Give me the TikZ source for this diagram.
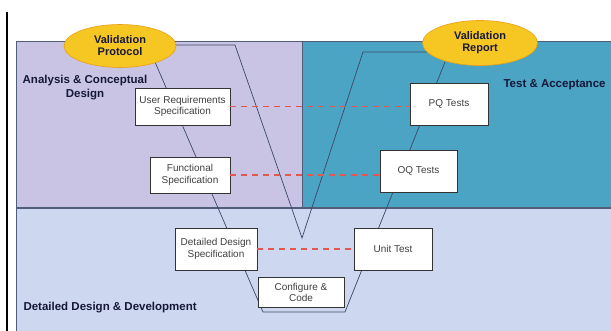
\documentclass[tikz,border=0pt]{standalone}
\usepackage{fontspec}
\setmainfont{Liberation Sans}
\usetikzlibrary{shapes.geometric}
\definecolor{phaseA}{RGB}{201,196,228}
\definecolor{phaseT}{RGB}{76,164,196}
\definecolor{phaseD}{RGB}{205,215,239}
\definecolor{rim}{RGB}{80,94,124}
\definecolor{vline}{RGB}{58,72,104}
\definecolor{gold}{RGB}{246,198,34}
\definecolor{goldrim}{RGB}{232,160,20}
\definecolor{navy}{RGB}{22,24,56}
\definecolor{dashred}{RGB}{230,86,80}
\begin{document}
\begin{tikzpicture}[x=1pt,y=-1pt,
    docbox/.style={draw=black!80,fill=white,line width=0.9pt,align=center,
      inner sep=1pt,font=\fontsize{10}{11.5}\selectfont,text=black!75},
    report/.style={ellipse,draw=goldrim,fill=gold,line width=0.6pt,
      align=center,inner sep=0pt,font=\bfseries\fontsize{11}{12}\selectfont,
      text=navy},
    phase/.style={font=\bfseries\fontsize{11.5}{14}\selectfont,text=navy},
    trace/.style={dashred,line width=1.4pt,dash pattern=on 6pt off 5pt}]
  \useasboundingbox (0,0) rectangle (611,331);
  % phase areas
  \fill[phaseD] (16,208) rectangle (611,331);
  \fill[phaseA] (16,41) rectangle (302,208);
  \fill[phaseT] (302,41) rectangle (611,208);
  \draw[rim,line width=0.9pt] (611,41) -- (16,41) -- (16,331);
  \draw[rim,line width=0.9pt] (302,41) -- (302,208);
  \draw[rim,line width=1.8pt] (16,208) -- (611,208);
  \draw[black,line width=1.2pt] (7,12) -- (7,331);
  % V lines
  \coordinate (outerL) at (155,62);
  \coordinate (outerLB) at (263,312);
  \coordinate (outerRB) at (345,312);
  \coordinate (outerR) at (445,62);
  \coordinate (innerL) at (175,45);
  \coordinate (innerLT) at (235,45);
  \coordinate (innerB) at (302,238);
  \coordinate (innerRT) at (363,52);
  \coordinate (innerR) at (432,52);
  \draw[vline,line width=0.7pt] (outerL) -- (outerLB) -- (outerRB) -- (outerR);
  \draw[vline,line width=0.7pt] (innerL) -- (innerLT) -- (innerB)
    -- (innerRT) -- (innerR);
  % documents
  \node[report,minimum width=112pt,minimum height=43pt] (protocol) at (120,46)
    {Validation\\Protocol};
  \node[report,minimum width=115pt,minimum height=45pt] (report) at (480,43)
    {Validation\\Report};
  \node[docbox,minimum width=95pt,minimum height=37pt] (urs) at (182.5,106.5)
    {User Requirements\\Specification};
  \node[docbox,minimum width=80pt,minimum height=36pt] (fs) at (190,175)
    {Functional\\Specification};
  \node[docbox,minimum width=82pt,minimum height=42pt] (dds) at (216,249)
    {Detailed Design\\Specification};
  \node[docbox,minimum width=86pt,minimum height=30pt] (code) at (301,292.5)
    {Configure \&\\Code};
  \node[docbox,minimum width=78pt,minimum height=42pt] (unit) at (393,249)
    {Unit Test};
  \node[docbox,minimum width=77pt,minimum height=42pt] (oq) at (418.5,171)
    {OQ Tests};
  \node[docbox,minimum width=78pt,minimum height=42pt] (pq) at (449,104)
    {PQ Tests};
  % verification links
  \draw[trace] (urs.east) -- (urs.east -| pq.west);
  \draw[trace] (fs.east) -- (fs.east -| oq.west);
  \draw[trace] (dds.east) -- (dds.east -| unit.west);
  % phase labels
  \node[phase,align=center] (analysis) at (85,87.5)
    {Analysis \& Conceptual\\Design};
  \node[phase,anchor=west] (testing) at (500,85) {Test \& Acceptance};
  \node[phase,anchor=west] (develop) at (20,308)
    {Detailed Design \& Development};
\end{tikzpicture}
\end{document}
